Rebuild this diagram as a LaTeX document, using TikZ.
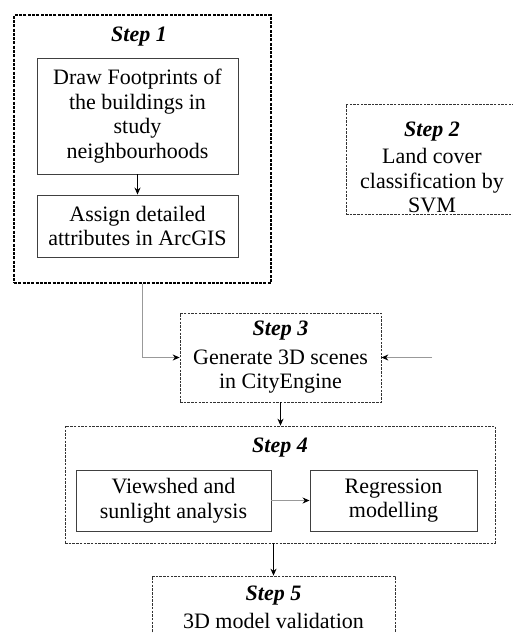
\documentclass[tikz,border=0pt]{standalone}
\usepackage{fontspec}
\setmainfont{Liberation Serif}
\usetikzlibrary{arrows.meta}
\tikzset{
  outerbox/.style={draw=black!80, dash pattern=on 2.5pt off 1.2pt, line width=0.7pt, inner sep=0pt},
  stepone/.style={outerbox, draw=black, dash pattern=on 3pt off 1.3pt, line width=1.3pt},
  innerbox/.style={draw=black!75, line width=0.9pt, inner sep=0pt, align=center,
    font=\fontsize{22}{24.5}\selectfont},
  steptitle/.style={font=\fontsize{22}{24.5}\selectfont\bfseries\itshape},
  boxtext/.style={font=\fontsize{22}{24.5}\selectfont, align=center},
  flow/.style={-{Stealth[length=7pt,width=6pt]}, draw=black, line width=0.9pt},
  greyflow/.style={-{Stealth[length=7pt,width=6pt,color=black]}, draw=black!40, line width=0.9pt}
}

\begin{document}
\begin{tikzpicture}[x=1pt,y=-1pt]
  \useasboundingbox (0,0) rectangle (513,633);
  % Step 1
  \node[stepone, minimum width=257pt, minimum height=268pt] (stepA) at (142.5,149) {};
  \node[steptitle] (titleA) at (139,37) {Step 1};
  \node[innerbox, minimum width=201pt, minimum height=116pt] (footprint) at (137.5,116)
    {Draw Footprints of\\the buildings in\\study\\neighbourhoods};
  \node[innerbox, minimum width=201pt, minimum height=62pt] (attrib) at (137.5,226)
    {Assign detailed\\attributes in ArcGIS};
  \draw[flow] (footprint) -- (attrib);
  % Step 2
  \node[outerbox, minimum width=170pt, minimum height=110pt] (stepB) at (431,159) {};
  \node[steptitle] (titleB) at (432,132) {Step 2};
  \node[boxtext] (landcover) at (432,181) {Land cover\\classification by\\SVM};
  % Step 3
  \node[outerbox, minimum width=201pt, minimum height=89pt] (stepC) at (280.5,357.5) {};
  \node[steptitle] (titleC) at (280.5,331) {Step 3};
  \node[boxtext] (scenes) at (280.5,371.5) {Generate 3D scenes\\in CityEngine};
  \coordinate (fromright) at (432,357.5);
  \draw[greyflow] (stepA.south) |- (stepC.west);
  \draw[greyflow] (fromright) -- (stepC.east);
  % Step 4
  \node[outerbox, minimum width=430pt, minimum height=117pt] (stepD) at (280,484.5) {};
  \node[steptitle] (titleD) at (280,448) {Step 4};
  \node[innerbox, minimum width=195pt, minimum height=61pt] (viewshed) at (173.5,500.5)
    {Viewshed and\\sunlight analysis};
  \node[innerbox, minimum width=167pt, minimum height=61pt] (regression) at (393.5,500.5)
    {Regression\\modelling};
  \draw[flow] (stepC.south) -- (stepC.south |- stepD.north);
  \draw[greyflow] (viewshed) -- (regression);
  % Step 5
  \node[outerbox, minimum width=243pt, minimum height=90pt] (stepE) at (273.5,621) {};
  \node[steptitle] (titleE) at (273.5,596) {Step 5};
  \node[boxtext] (validation) at (273.5,621) {3D model validation};
  \draw[flow] (stepE.north |- stepD.south) -- (stepE.north);
\end{tikzpicture}
\end{document}
